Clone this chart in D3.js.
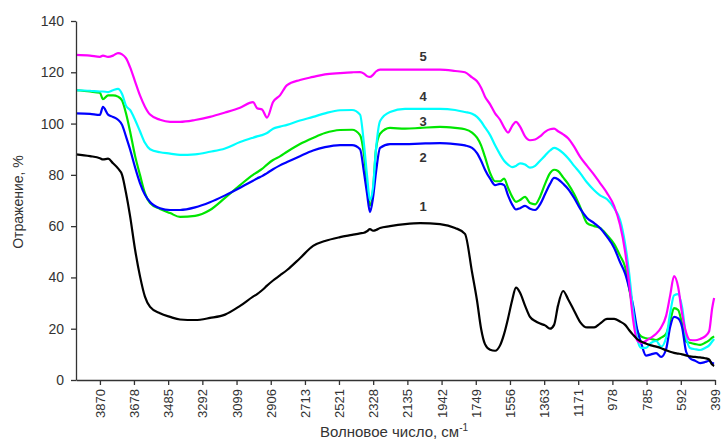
<!DOCTYPE html>
<html>
<head>
<meta charset="utf-8">
<script src="https://cdn.jsdelivr.net/npm/d3@7"></script>
<style>
    body { margin: 0; background: #fff; }
    svg { display: block; font-family: 'Liberation Sans', Arial, sans-serif; }
</style>
</head>
<body>
<div id="chart"></div>
<script>

// wavenumbers, cm-1 (shared grid for all spectra)
var wavenumbers = [4005, 3926, 3870, 3853, 3824, 3796, 3768, 3745, 3723, 3700,
    3672, 3644, 3616, 3587, 3531, 3474, 3418, 3333, 3249, 3164,
    3079, 3006, 2983, 2955, 2927, 2893, 2854, 2814, 2741, 2667,
    2600, 2515, 2447, 2402, 2380, 2363, 2346, 2329, 2312, 2289,
    2233, 2148, 2063, 1951, 1866, 1810, 1770, 1742, 1719, 1697,
    1668, 1640, 1612, 1589, 1567, 1544, 1522, 1499, 1471, 1443,
    1414, 1386, 1358, 1330, 1307, 1285, 1256, 1228, 1194, 1160,
    1121, 1081, 1048, 1008, 968, 935, 906, 884, 861, 839,
    816, 788, 760, 731, 703, 675, 652, 630, 607, 585,
    562, 540, 511, 483, 455, 432, 415, 404];

var spectrum1 = [88, 87.3, 86.5, 86, 86.3, 84.5, 82.5, 80, 73, 64,
    51, 40.5, 32.5, 28.5, 26, 24.6, 23.6, 23.4, 24.2, 25.5,
    28.9, 32.5, 33.5, 35, 36.8, 38.8, 40.8, 42.9, 47.5, 52.3,
    54.2, 55.7, 56.6, 57.2, 57.4, 58, 58.8, 58.2, 58.5, 59.3,
    60, 60.8, 61.2, 60.8, 59.3, 57, 42, 31, 20, 14,
    11.8, 11.4, 13.5, 18, 24, 31, 36, 34, 29, 24.6,
    23, 22, 21.3, 20, 21.5, 29, 34.7, 31.5, 27, 22.6,
    20.5, 20.5, 22, 23.8, 23.8, 22.8, 21.5, 19.5, 17.6, 16,
    15, 14.2, 13.5, 13, 12.4, 11.6, 11, 10.6, 10.3, 10,
    9.6, 9.2, 9, 8.8, 8.5, 8, 6, 5.5];

var spectrum2 = [104, 103.8, 103.4, 106.5, 103.5, 102.6, 101.5, 99.5, 95, 90,
    83, 76.8, 72.2, 69.4, 67, 66.3, 66.3, 67.3, 69.3, 72,
    75, 77.7, 78.6, 79.5, 80.7, 82.2, 83.7, 85, 87.3, 89.5,
    90.8, 91.6, 91.6, 90, 81, 72.9, 65.5, 71, 81, 90.5,
    92, 92, 92.2, 92.4, 92, 91.5, 90.5, 88.5, 85.5, 82,
    78.5, 76, 76.5, 76, 72, 68.5, 66.5, 67, 67.9, 66.8,
    66.3, 68.5, 72.5, 76.5, 78.8, 78.3, 76.5, 74.5, 71, 66.8,
    63.2, 61.2, 59.3, 55.8, 51.5, 46, 41.5, 36, 29, 20,
    14.5, 9.5, 10, 10.5, 9, 12, 20.7, 24.6, 24, 20.7,
    11, 8.5, 7.5, 6.6, 7, 7.5, 6.6, 6.5];

var spectrum3 = [113, 112.5, 112, 109.5, 111, 111, 110.5, 109, 104, 97,
    87.5, 80, 72.9, 69, 66.7, 65.1, 63.6, 64, 66.3, 71,
    76, 80, 81, 82.3, 84, 85.8, 87.2, 89, 92, 94.4,
    96.3, 97.5, 97.6, 95.5, 88, 77, 68, 74, 90, 96,
    98.3, 98, 98.3, 98.7, 98.3, 97.8, 96.5, 94.5, 91.5, 87,
    80.7, 77.5, 77.5, 78.5, 75, 71.5, 69.5, 70.2, 71.4, 69,
    68.5, 71.5, 76.5, 80.7, 82, 81.5, 79, 76.5, 72.5, 67.5,
    61.2, 60, 59.3, 56.5, 53, 48.5, 44, 36, 27, 19.5,
    17, 16.3, 16, 15.6, 16.5, 18, 23, 28, 27.3, 22,
    15, 14.5, 14, 13.7, 14.5, 15.5, 16.5, 17];

var spectrum4 = [113, 112.8, 112.5, 112.5, 112.3, 113, 113.5, 111.5, 107, 105.3,
    101.5, 97, 92.5, 90, 88.8, 88.3, 87.8, 88, 89, 90.3,
    92.8, 94.5, 95, 95.5, 96.3, 98, 98.8, 99.5, 101.2, 102.6,
    104, 105.2, 105.3, 103.5, 92, 80, 70.2, 75, 90, 101,
    104.5, 105.7, 105.7, 105.7, 105.3, 104.5, 103.8, 102.6, 100.8, 98.5,
    95.5, 91.5, 88, 85.5, 84, 83, 83.5, 84.5, 84, 82.8,
    83.5, 85.5, 87.5, 89.5, 90.5, 90, 88.5, 86.5, 83.5, 80.7,
    77, 74, 72, 70.5, 67, 62.5, 53, 42, 27, 16.5,
    12.5, 12.5, 14.5, 15.2, 13, 16.5, 26, 33, 33.5, 28.5,
    17, 12.5, 12, 11.7, 12.5, 13.5, 15, 16];

var spectrum5 = [126.8, 126.5, 126, 126.5, 126, 126.5, 127.5, 127, 125.5, 122,
    116.5, 111, 106.6, 103.5, 101.5, 100.7, 100.7, 101.4, 102.6, 104.3,
    106.2, 108.4, 106, 105.5, 102.3, 108.4, 111, 115, 117, 118.2,
    119.2, 119.7, 120, 120.1, 119.5, 118.5, 118.2, 119, 120.3, 121,
    121, 121, 121, 121, 120.5, 120, 118, 116.5, 114, 110.5,
    107.5, 104, 101.5, 98.5, 96.5, 99, 100.7, 98.8, 95, 93.5,
    93.8, 95, 96.8, 97.8, 98, 97, 95.8, 94.3, 91, 87,
    83.5, 80, 76.8, 72.9, 67.8, 60.5, 50, 38, 23.4, 15.5,
    14.5, 15.3, 16.5, 18, 20.5, 25, 33, 40.5, 36.3, 26,
    18.5, 15.6, 15.5, 16, 17, 19, 28, 32];

var seriesNames = ['1', '2', '3', '4', '5'];
var seriesColors = ['#000000', '#0000ff', '#00e600', '#00ffff', '#ff00ff'];

// where the curve numbers sit (wavenumber, value)
var labelWavenumber = 2046;
var labelValues = [67.5, 86.6, 101, 110.4, 126];

var xTicks = [3870, 3678, 3485, 3292, 3099, 2906, 2713, 2521, 2328, 2135,
    1942, 1749, 1556, 1363, 1171, 978, 785, 592, 399];
var yTicks = [0, 20, 40, 60, 80, 100, 120, 140];

var xLabel = 'Волновое число, см';
var yLabel = 'Отражение, %';

var margin = {top: 21, right: 7, bottom: 61, left: 76},
    width = 722,
    height = 441,
    innerW = width - margin.left - margin.right,
    innerH = height - margin.top - margin.bottom;

var xScale = d3.scaleLinear().domain( [4005, 399] ).range( [0, innerW] );
var yScale = d3.scaleLinear().domain( [0, 140] ).range( [innerH, 0] );

var svg = d3.select( '#chart' ).append( 'svg' )
    .attr( 'width', width )
    .attr( 'height', height );

svg.append( 'rect' )
    .attr( 'width', width )
    .attr( 'height', height )
    .attr( 'fill', '#fff' );

var g = svg.append( 'g' )
    .attr( 'transform', 'translate(' + margin.left + ',' + margin.top + ')' );

// Build series from the arrays
var spectra = [spectrum1, spectrum2, spectrum3, spectrum4, spectrum5].map( function ( vals, i ) {
    return {
        name: seriesNames[i],
        color: seriesColors[i],
        points: vals.map( function ( v, j ) { return [wavenumbers[j], v]; } )
    };
});

var line = d3.line()
    .x( function ( d ) { return xScale( d[0] ); } )
    .y( function ( d ) { return yScale( d[1] ); } )
    .curve( d3.curveMonotoneX );

// draw order: 3, 2, 4, 5, 1
var order = [2, 1, 3, 4, 0];

g.selectAll( '.line' )
    .data( order.map( function ( i ) { return spectra[i]; } ) )
    .enter()
    .append( 'path' )
    .attr( 'class', 'line' )
    .attr( 'fill', 'none' )
    .attr( 'stroke', function ( d ) { return d.color; } )
    .attr( 'stroke-width', 2.2 )
    .attr( 'stroke-linejoin', 'round' )
    .attr( 'd', function ( d ) { return line( d.points ); } );

// Axes
var xAxis = d3.axisBottom( xScale )
    .tickValues( xTicks )
    .tickFormat( d3.format( 'd' ) )
    .tickSize( 5 )
    .tickSizeOuter( 0 );

var yAxis = d3.axisLeft( yScale )
    .tickValues( yTicks )
    .tickSize( 5 )
    .tickSizeOuter( 0 )
    .tickPadding( 7 );

var gx = g.append( 'g' )
    .attr( 'class', 'x axis' )
    .attr( 'transform', 'translate(0,' + innerH + ')' )
    .call( xAxis );

gx.selectAll( 'text' )
    .attr( 'transform', 'rotate(-90)' )
    .attr( 'text-anchor', 'end' )
    .attr( 'x', -9 )
    .attr( 'y', 0 )
    .attr( 'dy', '0.35em' )
    .style( 'font-size', '13px' );

var gy = g.append( 'g' )
    .attr( 'class', 'y axis' )
    .call( yAxis );

gy.selectAll( 'text' )
    .style( 'font-size', '14px' );

g.selectAll( '.axis path, .axis line' )
    .attr( 'stroke', '#333' )
    .attr( 'stroke-width', 1.3 );

g.selectAll( '.axis text' )
    .attr( 'fill', '#333' )
    .style( 'font-family', "'Liberation Sans', Arial, sans-serif" );

// Curve numbers
g.selectAll( '.num' )
    .data( labelValues )
    .enter()
    .append( 'text' )
    .attr( 'class', 'num' )
    .attr( 'x', xScale( labelWavenumber ) )
    .attr( 'y', function ( d ) { return yScale( d ); } )
    .attr( 'dy', '0.35em' )
    .attr( 'text-anchor', 'middle' )
    .attr( 'fill', '#333' )
    .style( 'font-size', '13px' )
    .style( 'font-weight', 'bold' )
    .text( function ( d, i ) { return seriesNames[i]; } );

// Axis labels
var xl = svg.append( 'text' )
    .attr( 'x', 394 )
    .attr( 'y', 437 )
    .attr( 'text-anchor', 'middle' )
    .attr( 'fill', '#333' )
    .style( 'font-size', '15px' );
xl.append( 'tspan' ).text( xLabel );
xl.append( 'tspan' )
    .attr( 'dy', -6 )
    .style( 'font-size', '10px' )
    .text( '-1' );

svg.append( 'text' )
    .attr( 'transform', 'translate(23,' + ( margin.top + 181 ) + ') rotate(-90)' )
    .attr( 'text-anchor', 'middle' )
    .attr( 'fill', '#333' )
    .style( 'font-size', '14px' )
    .text( yLabel );

</script>
</body>
</html>
